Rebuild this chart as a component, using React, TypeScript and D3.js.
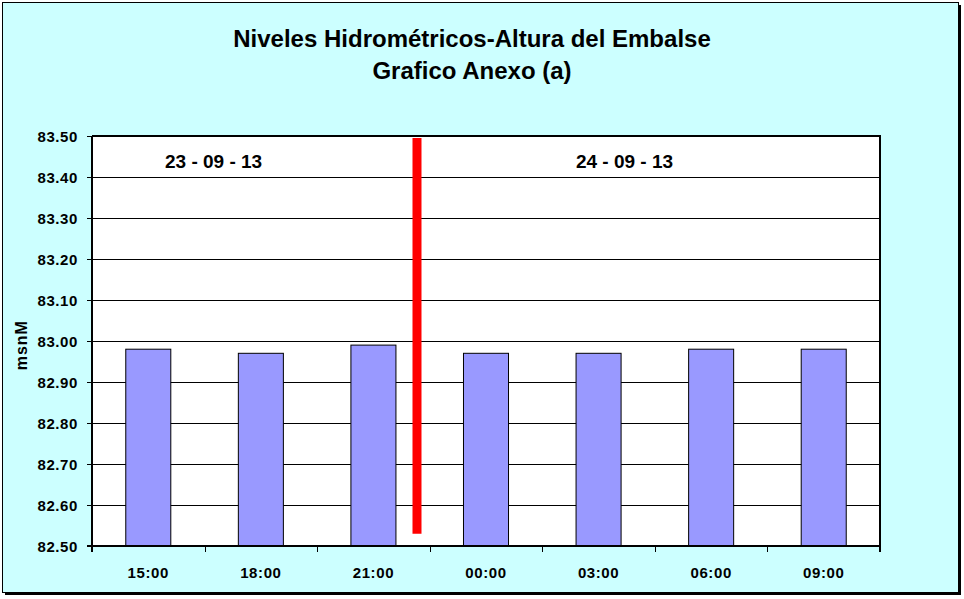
import React from "react";
import * as d3 from "d3";

const categories = ["15:00", "18:00", "21:00", "00:00", "03:00", "06:00", "09:00"];
const levels = [82.98, 82.97, 82.99, 82.97, 82.97, 82.98, 82.98];
const yTicks = [82.5, 82.6, 82.7, 82.8, 82.9, 83.0, 83.1, 83.2, 83.3, 83.4, 83.5];
const dayLabels = ["23 - 09 - 13", "24 - 09 - 13"];
const dayLabelPos = [1.08, 4.73]; // category-index units
const dividerPos = [2.887]; // category-index units
const dividerRange = [82.53, 83.495];
const titleLines = ["Niveles Hidrométricos-Altura del Embalse", "Grafico Anexo (a)"];
const yAxisLabel = "msnM";

const W = 964;
const H = 599;
const plot = { left: 92, top: 136, right: 880, bottom: 546 };
const font = "Arial, 'Liberation Sans', sans-serif";

export default function App() {
  const x = d3
    .scaleBand<string>()
    .domain(categories)
    .range([plot.left, plot.right])
    .paddingInner(0.6)
    .paddingOuter(0.3);
  const step = (plot.right - plot.left) / categories.length;
  const xPos = d3.scaleLinear().domain([0, categories.length]).range([plot.left, plot.right]);
  const y = d3.scaleLinear().domain([82.5, 83.5]).range([plot.bottom, plot.top]);

  return (
    <svg width={W} height={H} style={{ position: "absolute", left: 0, top: 0 }}>
      <rect x={5} y={5} width={956} height={590} fill="#000" />
      <rect x={2.5} y={2.5} width={956} height={590} fill="#CCFFFF" stroke="#000" strokeWidth={1} />

      {titleLines.map((t, i) => (
        <text
          key={t}
          x={472}
          y={47 + i * 32}
          textAnchor="middle"
          fontFamily={font}
          fontWeight="bold"
          fontSize={24}
        >
          {t}
        </text>
      ))}

      <rect
        x={plot.left}
        y={plot.top}
        width={plot.right - plot.left}
        height={plot.bottom - plot.top}
        fill="#fff"
      />

      {yTicks.map((t) => (
        <line
          key={"g" + t}
          x1={plot.left - 5}
          x2={plot.right}
          y1={Math.round(y(t)) + 0.5}
          y2={Math.round(y(t)) + 0.5}
          stroke="#000"
          strokeWidth={1}
        />
      ))}

      {categories.map((c, i) => (
        <rect
          key={c}
          x={x(c)}
          y={y(levels[i])}
          width={x.bandwidth()}
          height={plot.bottom - y(levels[i])}
          fill="#9999FF"
          stroke="#000"
          strokeWidth={1}
        />
      ))}

      {dividerPos.map((p, i) => (
        <line
          key={"d" + i}
          x1={xPos(p)}
          x2={xPos(p)}
          y1={y(dividerRange[1])}
          y2={y(dividerRange[0])}
          stroke="#FF0000"
          strokeWidth={9}
        />
      ))}

      {/* plot frame */}
      <line x1={plot.left} x2={plot.right + 1} y1={plot.top} y2={plot.top} stroke="#000" strokeWidth={2} />
      <line x1={plot.right} x2={plot.right} y1={plot.top} y2={plot.bottom + 6} stroke="#000" strokeWidth={2} />
      <line x1={plot.left} x2={plot.left} y1={plot.top} y2={plot.bottom + 6} stroke="#000" strokeWidth={2} />
      <line x1={plot.left - 5} x2={plot.right + 1} y1={plot.bottom} y2={plot.bottom} stroke="#000" strokeWidth={2} />

      {d3.range(1, categories.length).map((k) => (
        <line
          key={"xt" + k}
          x1={Math.round(plot.left + k * step) + 0.5}
          x2={Math.round(plot.left + k * step) + 0.5}
          y1={plot.bottom}
          y2={plot.bottom + 6}
          stroke="#000"
          strokeWidth={1}
        />
      ))}

      {yTicks.map((t) => (
        <text
          key={"yl" + t}
          x={78}
          y={y(t) + 5.5}
          textAnchor="end"
          fontFamily={font}
          fontWeight="bold"
          fontSize={15}
          letterSpacing={0.6}
        >
          {t.toFixed(2)}
        </text>
      ))}

      {categories.map((c) => (
        <text
          key={"xl" + c}
          x={(x(c) as number) + x.bandwidth() / 2}
          y={578}
          textAnchor="middle"
          fontFamily={font}
          fontWeight="bold"
          fontSize={15}
          letterSpacing={0.6}
        >
          {c}
        </text>
      ))}

      <text
        transform={`translate(27,${y(82.98) - 4}) rotate(-90)`}
        textAnchor="middle"
        fontFamily={font}
        fontWeight="bold"
        fontSize={16}
        letterSpacing={1}
      >
        {yAxisLabel}
      </text>

      {dayLabels.map((d, i) => (
        <text
          key={d}
          x={xPos(dayLabelPos[i])}
          y={168}
          textAnchor="middle"
          fontFamily={font}
          fontWeight="bold"
          fontSize={19}
        >
          {d}
        </text>
      ))}
    </svg>
  );
}
